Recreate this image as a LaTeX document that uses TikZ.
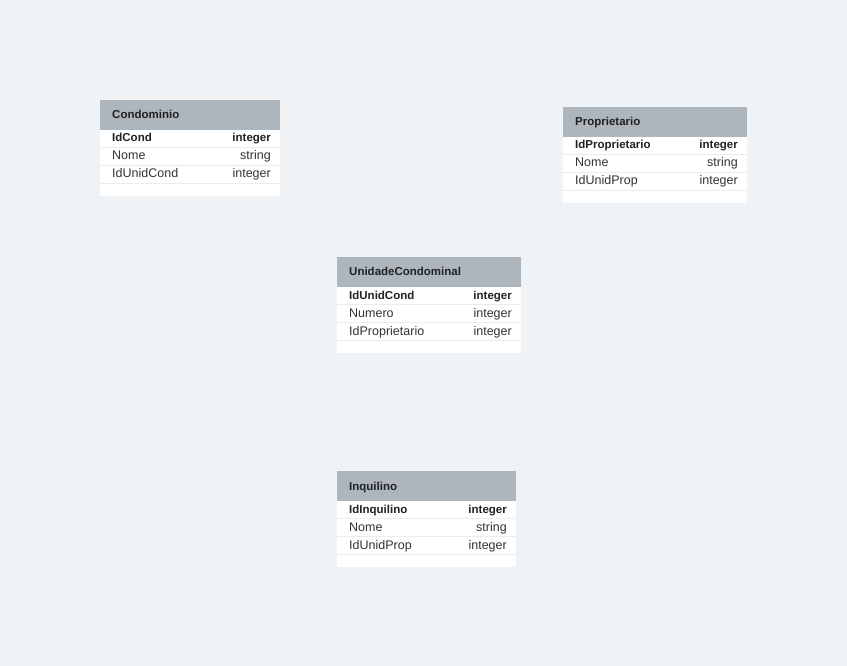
\documentclass[tikz,border=0pt]{standalone}
\usepackage{fontspec}
\setmainfont{Liberation Sans}
\definecolor{bgc}{HTML}{EFF3F6}
\definecolor{hdrc}{HTML}{ADB5BD}
\definecolor{sepc}{HTML}{E9EDF0}
\definecolor{txtc}{HTML}{333333}
\definecolor{ttlc}{HTML}{222222}
\tikzset{
  hdrbox/.style={fill=hdrc, draw=none, inner sep=0pt, minimum height=30pt, anchor=north west},
  rowbox/.style={fill=white, draw=none, inner sep=0pt, minimum height=18pt, anchor=north west},
  footbox/.style={fill=white, draw=none, inner sep=0pt, minimum height=12pt, anchor=north west},
  sepline/.style={draw=sepc, line width=1pt},
  ttltext/.style={font=\fontsize{11.5}{13}\selectfont\bfseries, text=ttlc, inner sep=0pt, anchor=base west},
  fldtext/.style={font=\fontsize{12.5}{14}\selectfont, text=txtc, inner sep=0pt, anchor=base west},
  typtext/.style={font=\fontsize{12.5}{14}\selectfont, text=txtc, inner sep=0pt, anchor=base east},
  keyfld/.style={font=\fontsize{11.5}{13}\selectfont\bfseries, text=ttlc, inner sep=0pt, anchor=base west},
  keytyp/.style={font=\fontsize{11.5}{13}\selectfont\bfseries, text=ttlc, inner sep=0pt, anchor=base east},
}
% #1 name, #2 left, #3 top, #4 width, #5 title, #6 key field, #7 field2, #8 type2, #9 field3
\newcommand\erTable[9]{%
  \node[hdrbox, minimum width=#4pt] (#1) at (#2,#3) {};
  \node[ttltext] (#1-title) at ({#2+12},{#3+19}) {#5};
  \node[rowbox, minimum width=#4pt] (#1-r1) at ({#2},{#3+30}) {};
  \node[rowbox, minimum width=#4pt] (#1-r2) at ({#2},{#3+48}) {};
  \node[rowbox, minimum width=#4pt] (#1-r3) at ({#2},{#3+66}) {};
  \node[footbox, minimum width=#4pt] (#1-f) at ({#2},{#3+84}) {};
  \draw[sepline] ([yshift=0.5pt]#1-r1.south west) -- ([yshift=0.5pt]#1-r1.south east);
  \draw[sepline] ([yshift=0.5pt]#1-r2.south west) -- ([yshift=0.5pt]#1-r2.south east);
  \draw[sepline] ([yshift=0.5pt]#1-r3.south west) -- ([yshift=0.5pt]#1-r3.south east);
  \node[keyfld] (#1-k) at ({#2+12},{#3+42}) {#6};
  \node[keytyp] (#1-kt) at ({#2+#4-9},{#3+42}) {integer};
  \node[fldtext] (#1-f2) at ({#2+12},{#3+60}) {#7};
  \node[typtext] (#1-t2) at ({#2+#4-9},{#3+60}) {#8};
  \node[fldtext] (#1-f3) at ({#2+12},{#3+78}) {#9};
  \node[typtext] (#1-t3) at ({#2+#4-9},{#3+78}) {integer};
}
\begin{document}
\begin{tikzpicture}[x=1pt,y=-1pt]
\fill[bgc] (0,0) rectangle (847,666);
\useasboundingbox (0,0) rectangle (847,666);
\erTable{cond}{100}{100}{180}{Condominio}{IdCond}{Nome}{string}{IdUnidCond}
\erTable{prop}{563}{107}{184}{Proprietario}{IdProprietario}{Nome}{string}{IdUnidProp}
\erTable{unid}{337}{257}{184}{UnidadeCondominal}{IdUnidCond}{Numero}{integer}{IdProprietario}
\erTable{inq}{337}{471}{179}{Inquilino}{IdInquilino}{Nome}{string}{IdUnidProp}
\end{tikzpicture}
\end{document}
